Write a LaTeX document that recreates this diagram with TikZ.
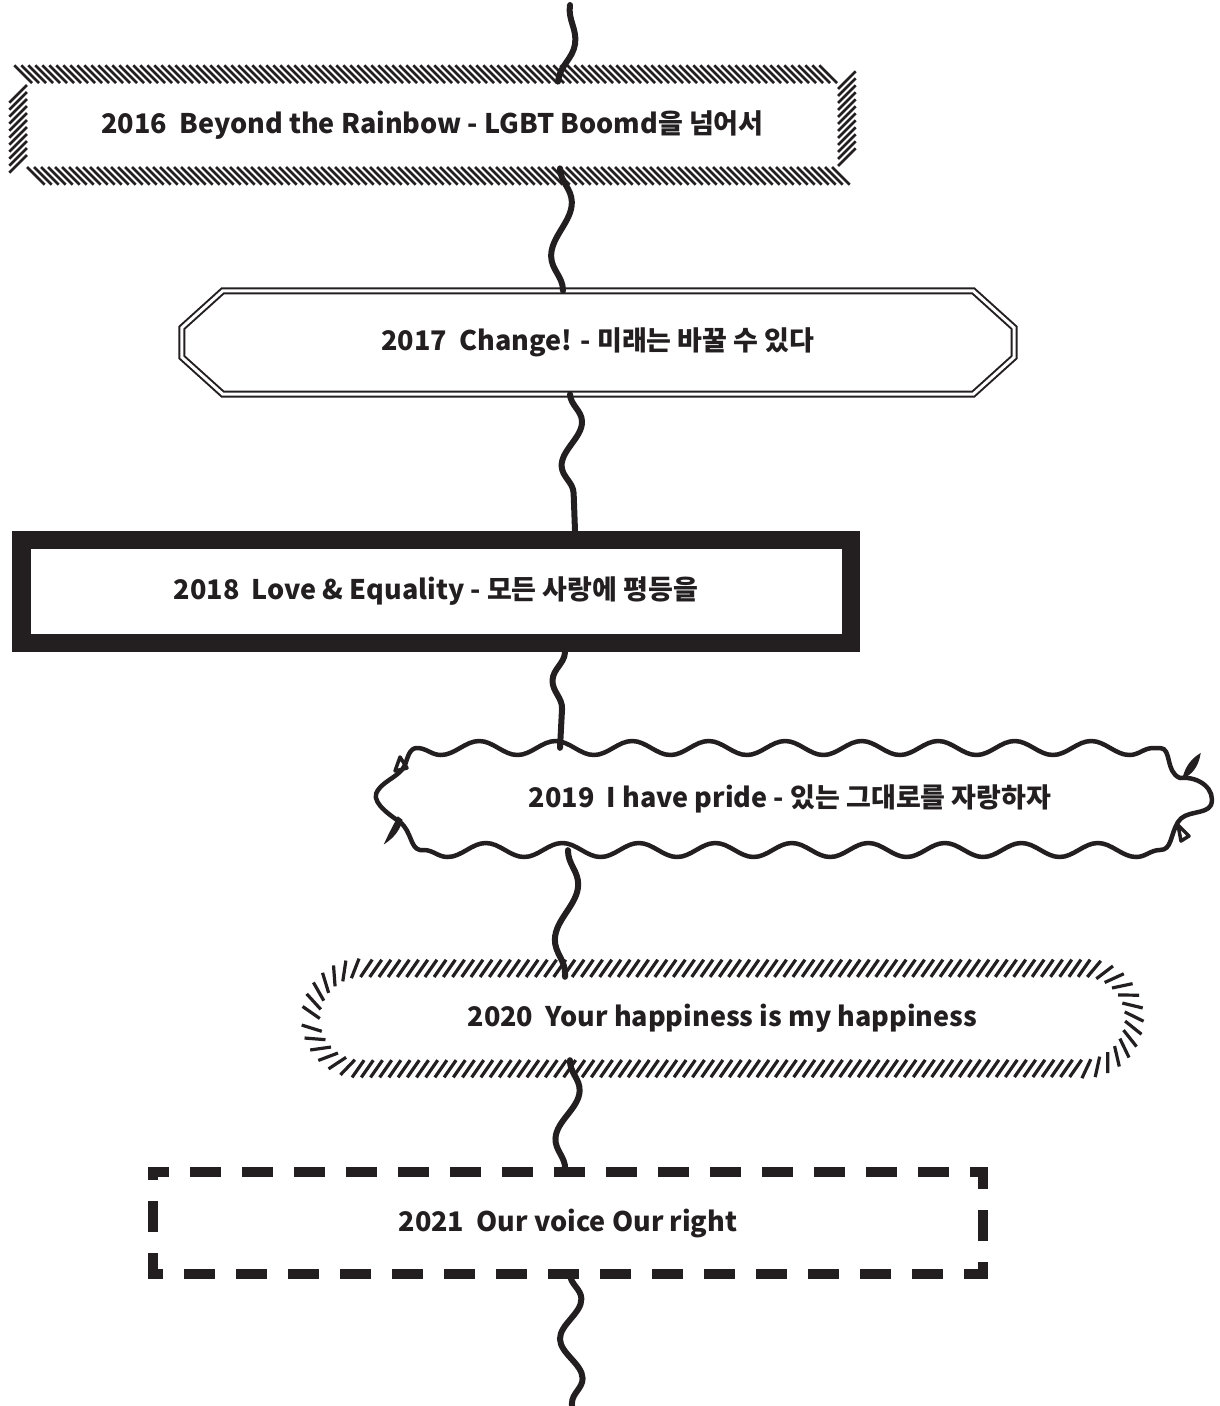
\documentclass[tikz,border=0pt]{standalone}
\usepackage{fontspec}
\setmainfont{Noto Sans CJK KR}
\usetikzlibrary{decorations.pathmorphing, decorations.pathreplacing}
\definecolor{ink}{RGB}{35,31,32}
\tikzset{
	title/.style={
		font=\fontsize{27}{32}\selectfont\bfseries,
		text=ink},
	hatchbox/.style={
		title,
		draw=ink,
		line width=2.8pt,
		decorate,
		decoration={border,
		segment length=7pt,
		amplitude=25pt,
		angle=-45}
	},
	gatebox/.style={
		title,
		minimum width=832pt,
		minimum height=103pt},
	gateline/.style={
		draw=ink,
		line width=2pt,
		double=white,
		double distance=3pt,
		line join=miter},
	heavybox/.style={
		title,
		draw=ink,
		line width=18.5pt,
		minimum width=829.5pt,
		minimum height=103pt},
	cloudbox/.style={
		title,
		minimum width=743pt,
		minimum height=102pt},
	cloudline/.style={
		draw=ink,
		line width=4.5pt,
		line join=round,
		decoration={snake,
		amplitude=7pt,
		segment length=76.5pt}
	},
	leaf/.style={
		fill=ink,
		draw=ink,
		line width=1pt},
	fringebox/.style={
		title,
		minimum width=805pt,
		minimum height=83pt},
	fringeline/.style={
		draw=ink,
		line width=3.2pt,
		decorate,
		decoration={border,
		segment length=9.2pt,
		amplitude=21pt,
		angle=55}
	},
	dashbox/.style={
		title,
		minimum width=830pt,
		minimum height=102pt},
	dashline/.style={
		draw=ink,
		line width=10pt,
		line cap=rect,
		line join=miter,
		dash pattern=on 21pt off 31pt,
		dash phase=10pt},
	squiggle/.style={
		draw=ink,
		line width=6pt,
		line cap=round,
		decorate,
		decoration={snake,
		amplitude=11pt}
	},
}

\begin{document}
\begin{tikzpicture}[x=1pt, y=-1pt]
	\useasboundingbox (0,0) rectangle (1219,1406);

	% loose ends of the timeline
	\coordinate (lineTop) at (570,5);
	\coordinate (lineBottom) at (572,1406);

	% one box per year
	\node [hatchbox, minimum width=811pt, minimum height=84pt] (y2016) at (432.5,125) {2016~~Beyond the Rainbow - LGBT Boomd을 넘어서};
	\node [gatebox] (y2017) at (598,342.5) {2017~~Change! - 미래는 바꿀 수 있다};
	\node [heavybox] (y2018) at (436,591.5) {2018~~Love \& Equality - 모든 사랑에 평등을};
	\node [cloudbox] (y2019) at (790,799) {2019~~I have pride - 있는 그대로를 자랑하자};
	\node [fringebox] (y2020) at (722.5,1018.5) {2020~~Your happiness is my happiness};
	\node [dashbox] (y2021) at (568,1223) {2021~~Our voice Our right};

	% 2017 frame
	\draw [gateline] ([xshift=41pt]y2017.north west) -- ([xshift=-41pt]y2017.north east) -- ([yshift=-37pt]y2017.north east) -- ([yshift=37pt]y2017.south east) -- ([xshift=-41pt]y2017.south east) -- ([xshift=41pt]y2017.south west) -- ([yshift=37pt]y2017.south west) -- ([yshift=-37pt]y2017.north west) -- cycle;

	% 2019 frame
	\begin{scope}[shift={(y2019.center)}]
		\draw [cloudline] (-373,-51) decorate[decoration={mirror}] {-- (370,-51)}
			.. controls (382,-51) and (375,-27) .. (390,-21)
			.. controls (410,-23) and (426,-9) .. (421,6)
			.. controls (416,16) and (395,11) .. (388,23)
			.. controls (380,36) and (382,51) .. (370,51)
			decorate {-- (-370,51)}
			.. controls (-380,49) and (-378,33) .. (-390,23)
			.. controls (-405,13) and (-420,1) .. (-412,-9)
			.. controls (-405,-19) and (-390,-23) .. (-385,-34)
			.. controls (-382,-43) and (-380,-51) .. (-373,-51) -- cycle;
		\draw [leaf] (393,-21) .. controls (396,-33) and (402,-40) .. (410,-45) .. controls (408,-33) and (402,-25) .. (393,-21) -- cycle;
		\draw [leaf] (-392,18) .. controls (-396,26) and (-401,35) .. (-405,44) .. controls (-396,38) and (-390,30) .. (-388,21) -- cycle;
		\draw [cloudline, line width=3.5pt] (388,26) -- (399,37) -- (391,42) -- cycle;
		\draw [cloudline, line width=3.5pt] (-395,-28) -- (-390,-42) -- (-383,-31) -- cycle;
	\end{scope}

	% 2020 frame
	\draw [fringeline] (y2020.west) arc[start angle=180, end angle=90, radius=41.5pt] -- ([xshift=-41.5pt]y2020.north east) arc[start angle=90, end angle=-90, radius=41.5pt] -- ([xshift=41.5pt]y2020.south west) arc[start angle=270, end angle=180, radius=41.5pt] -- cycle;

	% 2021 frame
	\draw [dashline] (y2021.north west) -- (y2021.north east) -- (y2021.south east) -- (y2021.south west) -- cycle;

	% timeline
	\draw [squiggle, decoration={segment length=121pt}] (lineTop) -- (y2016.north -| 558,0);
	\draw [squiggle, decoration={segment length=108pt}] (y2016.south -| 560,0) -- (y2017.north -| 563,0);
	\draw [squiggle, decoration={segment length=88pt}] (y2017.south -| 570,0) -- (y2018.north -| 575,0);
	\draw [squiggle, decoration={segment length=91pt, mirror}] (y2018.south -| 565,0) -- (y2019.north -| 560,0);
	\draw [squiggle, decoration={segment length=110pt}] (y2019.south -| 568,0) -- (y2020.north -| 565,0);
	\draw [squiggle, decoration={segment length=97pt}] (y2020.south -| 570,0) -- (y2021.north -| 565,0);
	\draw [squiggle, decoration={segment length=79.5pt}] (y2021.south -| 570,0) -- (lineBottom);
\end{tikzpicture}
\end{document}
